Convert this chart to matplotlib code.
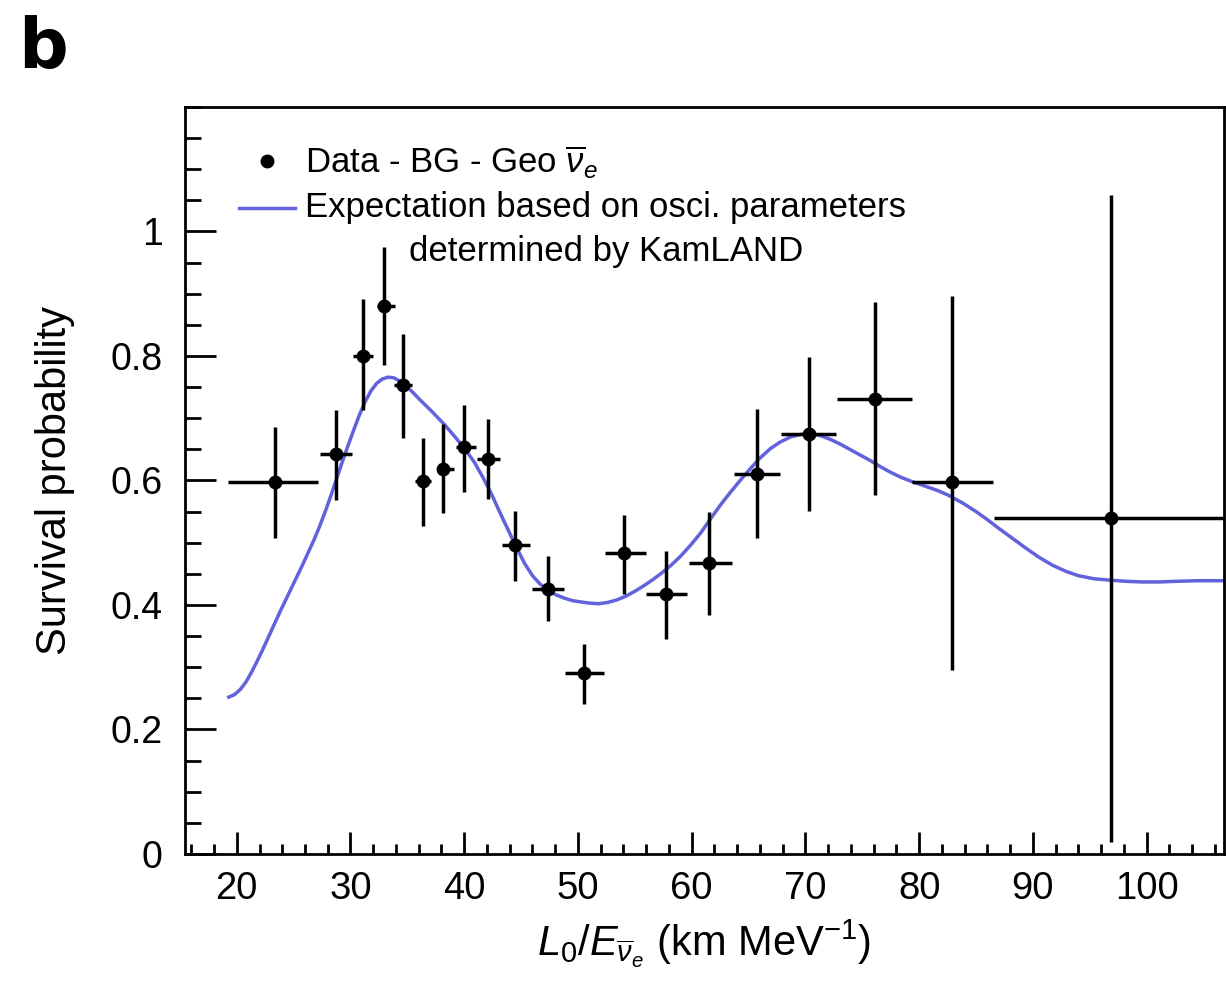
import matplotlib
matplotlib.use("Agg")
import matplotlib.pyplot as plt
from matplotlib.ticker import MultipleLocator
from matplotlib.legend_handler import HandlerLine2D
import numpy as np

plt.rcParams['font.family'] = ['Liberation Sans', 'DejaVu Sans']
plt.rcParams['mathtext.fontset'] = 'custom'
plt.rcParams['mathtext.rm'] = 'Liberation Sans'
plt.rcParams['mathtext.it'] = 'Liberation Sans:italic'
plt.rcParams['mathtext.bf'] = 'Liberation Sans:bold'

# ---- data points (Data - BG - Geo) ----
L_over_E = np.array([23.4, 28.7, 31.1, 32.95, 34.65, 36.4, 38.15, 39.95, 42.1, 44.5,
                     47.4, 50.5, 54.05, 57.7, 61.5, 65.7, 70.35, 76.1, 82.9, 96.9])
survival = np.array([0.597, 0.642, 0.800, 0.881, 0.753, 0.599, 0.619, 0.653, 0.634, 0.497,
                     0.425, 0.290, 0.483, 0.417, 0.468, 0.611, 0.674, 0.731, 0.597, 0.539])
surv_low = np.array([0.507, 0.568, 0.714, 0.785, 0.669, 0.527, 0.548, 0.581, 0.570, 0.439,
                     0.374, 0.241, 0.418, 0.346, 0.384, 0.508, 0.551, 0.576, 0.295, 0.020])
surv_high = np.array([0.686, 0.713, 0.891, 0.975, 0.836, 0.669, 0.690, 0.722, 0.698, 0.551,
                      0.478, 0.338, 0.544, 0.487, 0.549, 0.715, 0.798, 0.887, 0.897, 1.058])
bin_low = np.array([19.26, 27.3, 30.25, 32.3, 33.8, 35.7, 37.6, 39.3, 41.1, 43.3,
                    46.0, 48.9, 52.35, 56.0, 59.8, 63.75, 67.87, 72.74, 79.4, 86.55])
bin_high = np.array([27.17, 30.1, 32.0, 33.9, 35.4, 37.1, 39.1, 41.0, 43.1, 45.8,
                     48.77, 52.28, 55.95, 59.62, 63.52, 67.8, 72.71, 79.35, 86.52, 107.2])

# ---- expectation curve ----
curve_x = [19.3, 19.8, 20.3, 20.8, 21.3, 21.8, 22.3, 22.8, 23.3, 23.8, 24.3, 24.8, 25.3,
           25.8, 26.3, 26.8, 27.3, 27.8, 28.3, 28.8, 29.3, 29.8, 30.3, 30.8, 31.3, 31.8,
           32.3, 32.8, 33.3, 33.8, 34.3, 34.8, 35.4, 36.2, 37.2, 38.2, 39.1, 40.0, 40.9,
           41.7, 42.4, 43.1, 43.9, 44.6, 45.3, 46.0, 46.7, 47.4, 48.1, 48.8, 49.5, 50.2,
           51.0, 51.8, 52.6, 53.4, 54.2, 55.0, 55.8, 56.6, 57.4, 58.2, 59.0, 59.9, 60.8,
           61.6, 62.5, 63.4, 64.3, 65.2, 66.0, 66.9, 67.8, 68.7, 69.6, 70.4, 71.3, 72.2,
           73.1, 74.0, 74.8, 75.7, 76.6, 77.5, 78.4, 79.4, 80.5, 81.6, 82.6, 83.8, 85.0,
           86.0, 87.0, 88.2, 89.4, 90.5, 91.7, 92.9, 94.0, 95.4, 96.7, 98.2, 99.6, 101.1,
           102.6, 104.6, 106.8]
curve_y = [0.252, 0.256, 0.264, 0.276, 0.292, 0.310, 0.329, 0.349, 0.369, 0.389, 0.408,
           0.427, 0.446, 0.465, 0.485, 0.505, 0.527, 0.551, 0.577, 0.604, 0.631, 0.657,
           0.682, 0.706, 0.727, 0.744, 0.756, 0.763, 0.766, 0.765, 0.760, 0.753, 0.743,
           0.728, 0.710, 0.691, 0.672, 0.652, 0.629, 0.603, 0.578, 0.550, 0.519, 0.492,
           0.467, 0.447, 0.433, 0.423, 0.416, 0.411, 0.407, 0.405, 0.403, 0.402, 0.404,
           0.408, 0.414, 0.422, 0.431, 0.441, 0.452, 0.464, 0.478, 0.496, 0.516, 0.537,
           0.560, 0.581, 0.601, 0.620, 0.636, 0.651, 0.662, 0.670, 0.674, 0.675, 0.672,
           0.666, 0.658, 0.649, 0.641, 0.632, 0.622, 0.613, 0.605, 0.598, 0.591, 0.584,
           0.576, 0.564, 0.550, 0.537, 0.523, 0.507, 0.491, 0.477, 0.464, 0.454, 0.447,
           0.442, 0.440, 0.438, 0.437, 0.437, 0.438, 0.439, 0.439]

y_ticks = [0, 0.2, 0.4, 0.6, 0.8, 1]
y_ticklabels = ['0', '0.2', '0.4', '0.6', '0.8', '1']
x_ticks = [20, 30, 40, 50, 60, 70, 80, 90, 100]

LEG_FS = 25


class RaisedLine(HandlerLine2D):
    """Line handle aligned with the first line of a two-line label."""
    def __init__(self, shift, **kw):
        super().__init__(**kw)
        self.shift = shift

    def create_artists(self, legend, orig_handle, xdescent, ydescent, width,
                       height, fontsize, trans):
        arts = super().create_artists(legend, orig_handle, xdescent, ydescent,
                                      width, height, fontsize, trans)
        for a in arts:
            a.set_ydata(np.asarray(a.get_ydata(), dtype=float) + self.shift)
        return arts


fig = plt.figure(figsize=(12.26, 10.01), dpi=100)
ax = fig.add_axes([0.1509, 0.1469, 0.8475, 0.7462])

line, = ax.plot(curve_x, curve_y, color='#6262dc', lw=2.5, zorder=2,
                label='Expectation based on osci. parameters\ndetermined by KamLAND')
ax.errorbar(L_over_E, survival,
            yerr=[survival - surv_low, surv_high - survival],
            xerr=[L_over_E - bin_low, bin_high - L_over_E],
            fmt='none', ecolor='black', elinewidth=2.5, capsize=0, zorder=3)
dots, = ax.plot(L_over_E, survival, 'o', color='black', ms=9, zorder=4,
                label=r'Data - BG - Geo $\overline{\nu}_e$')

ax.set_xlim(15.45, 106.8)
ax.set_ylim(0, 1.2)
ax.set_xticks(x_ticks)
ax.xaxis.set_minor_locator(MultipleLocator(2))
ax.set_yticks(y_ticks)
ax.set_yticklabels(y_ticklabels)
ax.yaxis.set_minor_locator(MultipleLocator(0.05))

ax.tick_params(axis='y', which='major', direction='in', length=22, width=2, labelsize=27, pad=16)
ax.tick_params(axis='y', which='minor', direction='in', length=11.5, width=2)
ax.tick_params(axis='x', which='major', direction='in', length=16, width=2, labelsize=27.5, pad=12)
ax.tick_params(axis='x', which='minor', direction='in', length=7, width=2)
for s in ax.spines.values():
    s.set_linewidth(2)

ax.set_ylabel('Survival probability', fontsize=30, labelpad=26)
ax.set_xlabel(r'$L_0/E_{\overline{\nu}_e}$ (km MeV$^{-1}$)', fontsize=30, labelpad=8)

shift_pt = 0.5 * 1.44 * 0.9 * LEG_FS
leg = ax.legend(handles=[dots, line], loc='upper left', frameon=False, fontsize=LEG_FS,
                handlelength=1.61, handletextpad=0.3, labelspacing=0.3,
                borderaxespad=0.0, bbox_to_anchor=(0.0385, 0.970),
                handler_map={line: RaisedLine(shift_pt)})
for t in leg.get_texts():
    t.set_multialignment('center')
    t.set_linespacing(1.44)

fig.text(0.015, 0.932, 'b', fontsize=50, fontweight='bold', va='baseline', ha='left',
         family='DejaVu Sans')

fig.savefig('out.png', dpi=100)
